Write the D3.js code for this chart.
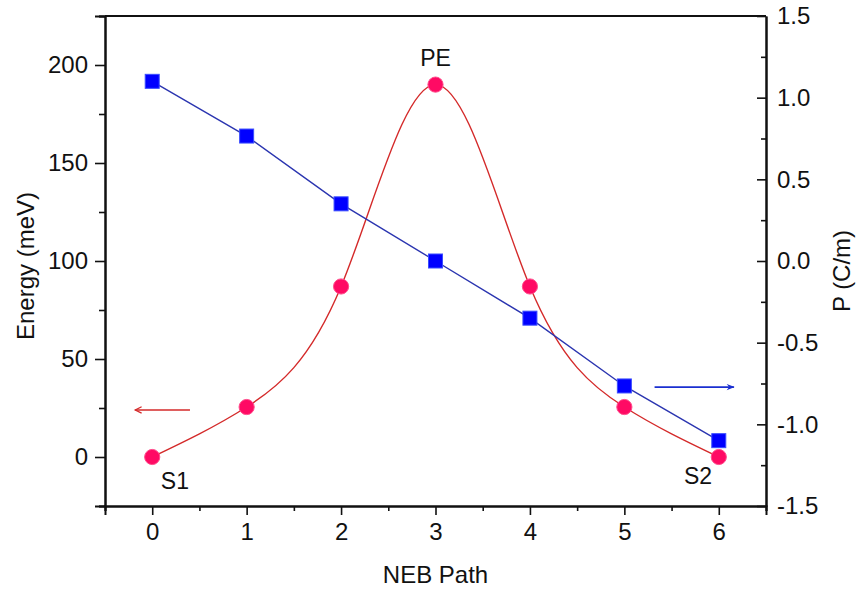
<!DOCTYPE html>
<html>
<head>
<meta charset="utf-8">
<script src="https://cdn.jsdelivr.net/npm/d3@7"></script>
<style>
  body { margin: 0; background: #fff; }
  text { font-family: "Liberation Sans", Arial, sans-serif; fill: #111; }
</style>
</head>
<body>
<svg width="857" height="593"></svg>
<script>
// NEB path images
let steps = [0, 1, 2, 3, 4, 5, 6];
// energy (meV) -> left axis
let energy = [0, 25.5, 87, 190, 87, 25.5, 0];
// polarization (C/m) -> right axis
let polar = [1.1, 0.765, 0.35, 0, -0.35, -0.765, -1.1];

let xTicks = [0, 1, 2, 3, 4, 5, 6];
let eTicks = [0, 50, 100, 150, 200];
let pTicks = [-1.5, -1.0, -0.5, 0.0, 0.5, 1.0, 1.5];

let margin = {top: 16, right: 91, bottom: 87, left: 105},
    width = 857 - margin.left - margin.right,
    height = 593 - margin.top - margin.bottom;

let svg = d3.select('svg');

let defs = svg.append('defs');
defs.append('marker')
    .attr('id', 'headRed')
    .attr('viewBox', '0 0 10 10')
    .attr('refX', 9).attr('refY', 5)
    .attr('markerWidth', 10).attr('markerHeight', 8)
    .attr('markerUnits', 'userSpaceOnUse')
    .attr('orient', 'auto')
    .append('path')
    .attr('d', 'M1,1 L9,5 L1,9')
    .attr('fill', 'none')
    .attr('stroke', '#d42a2a')
    .attr('stroke-width', 1.6);
defs.append('marker')
    .attr('id', 'headBlue')
    .attr('viewBox', '0 0 10 10')
    .attr('refX', 9).attr('refY', 5)
    .attr('markerWidth', 12).attr('markerHeight', 8)
    .attr('markerUnits', 'userSpaceOnUse')
    .attr('orient', 'auto')
    .append('path')
    .attr('d', 'M0,1 L10,5 L0,9 L3,5 Z')
    .attr('fill', '#1a2fd0');

let g = svg.append('g')
           .attr('transform', `translate(${margin.left},${margin.top})`);

let x = d3.scaleLinear().domain([-0.5, 6.5]).range([0, width]);
let yE = d3.scaleLinear().domain([-25, 225]).range([height, 0]);
let yP = d3.scaleLinear().domain([-1.5, 1.5]).range([height, 0]);

// minor ticks between the majors
let xMinor = d3.range(-0.5, 6.51, 0.5).filter(v => !xTicks.includes(v));
let eMinor = d3.range(-25, 226, 25).filter(v => !eTicks.includes(v));
let pMinor = d3.range(-1.25, 1.3, 0.5);

let tickFont = '24px';
// plain hyphen for negatives, like the original
let fmtP = d => d.toFixed(1);

// bottom axis
let xAxis = g.append('g')
    .attr('transform', `translate(0,${height})`)
    .call(d3.axisBottom(x).tickValues(xTicks).tickSize(9).tickPadding(8).tickFormat(d3.format('d')));
g.append('g')
    .attr('transform', `translate(0,${height})`)
    .call(d3.axisBottom(x).tickValues(xMinor).tickSize(5).tickFormat(''));

// left axis
let eAxis = g.append('g')
    .call(d3.axisLeft(yE).tickValues(eTicks).tickSize(10).tickPadding(7));
g.append('g')
    .call(d3.axisLeft(yE).tickValues(eMinor).tickSize(6).tickFormat(''));

// right axis, ticks point inward
let pAxis = g.append('g')
    .attr('transform', `translate(${width},0)`)
    .call(d3.axisRight(yP).tickValues(pTicks).tickSizeInner(-9).tickSizeOuter(0).tickFormat(fmtP));
g.append('g')
    .attr('transform', `translate(${width},0)`)
    .call(d3.axisRight(yP).tickValues(pMinor).tickSizeInner(-5).tickSizeOuter(0).tickFormat(''));

// top frame line
g.append('line')
 .attr('x1', 0).attr('x2', width)
 .attr('y1', 0).attr('y2', 0)
 .attr('stroke', '#111').attr('stroke-width', 2);

g.selectAll('.domain').attr('stroke', '#111').attr('stroke-width', 2);
g.selectAll('.tick line').attr('stroke', '#111').attr('stroke-width', 1.6);
g.selectAll('.tick text')
 .style('font-size', tickFont)
 .style('font-family', '"Liberation Sans", Arial, sans-serif')
 .attr('fill', '#111');
pAxis.selectAll('.tick text').attr('x', 11);

// energy curve (spline) + circles
let eLine = d3.line()
              .x((d, i) => x(steps[i]))
              .y(d => yE(d))
              .curve(d3.curveNatural);

g.append('path')
 .datum(energy)
 .attr('d', eLine)
 .attr('fill', 'none')
 .attr('stroke', '#d42a2a')
 .attr('stroke-width', 1.4);

// polarization line + squares
let pLine = d3.line()
              .x((d, i) => x(steps[i]))
              .y(d => yP(d));

g.append('path')
 .datum(polar)
 .attr('d', pLine)
 .attr('fill', 'none')
 .attr('stroke', '#2b35b0')
 .attr('stroke-width', 1.4);

g.selectAll('rect.pt')
 .data(polar)
 .enter()
 .append('rect')
 .attr('class', 'pt')
 .attr('x', (d, i) => x(steps[i]) - 7)
 .attr('y', d => yP(d) - 7)
 .attr('width', 14)
 .attr('height', 14)
 .attr('fill', '#0000ff')
 .attr('stroke', '#3a4cff')
 .attr('stroke-width', 1);

g.selectAll('circle.pt')
 .data(energy)
 .enter()
 .append('circle')
 .attr('class', 'pt')
 .attr('cx', (d, i) => x(steps[i]))
 .attr('cy', d => yE(d))
 .attr('r', 7.6)
 .attr('fill', '#ff0a64')
 .attr('stroke', '#ff4d8c')
 .attr('stroke-width', 1);

// arrows pointing to each series' axis
g.append('line')
 .attr('x1', x(0.40)).attr('x2', x(-0.18))
 .attr('y1', yE(24)).attr('y2', yE(24))
 .attr('stroke', '#d42a2a').attr('stroke-width', 1.6)
 .attr('marker-end', 'url(#headRed)');

g.append('line')
 .attr('x1', x(5.32)).attr('x2', x(6.16))
 .attr('y1', yP(-0.772)).attr('y2', yP(-0.772))
 .attr('stroke', '#1a2fd0').attr('stroke-width', 1.6)
 .attr('marker-end', 'url(#headBlue)');

// point labels
let labels = [
  {t: 'S1', xv: 0.24, ev: -16.3},
  {t: 'PE', xv: 3.0, ev: 199.5},
  {t: 'S2', xv: 5.78, ev: -13.8}
];
g.selectAll('text.lab')
 .data(labels)
 .enter()
 .append('text')
 .attr('class', 'lab')
 .attr('x', d => x(d.xv))
 .attr('y', d => yE(d.ev))
 .attr('text-anchor', 'middle')
 .style('font-size', '23px')
 .text(d => d.t);

// axis titles
svg.append('text')
   .attr('x', margin.left + x(3))
   .attr('y', 583)
   .attr('text-anchor', 'middle')
   .style('font-size', '24px')
   .text('NEB Path');

svg.append('text')
   .attr('transform', 'translate(34,266) rotate(-90)')
   .attr('text-anchor', 'middle')
   .style('font-size', '24px')
   .text('Energy (meV)');

svg.append('text')
   .attr('transform', 'translate(850,271) rotate(-90)')
   .attr('text-anchor', 'middle')
   .style('font-size', '24px')
   .text('P (C/m)');
</script>
</body>
</html>
